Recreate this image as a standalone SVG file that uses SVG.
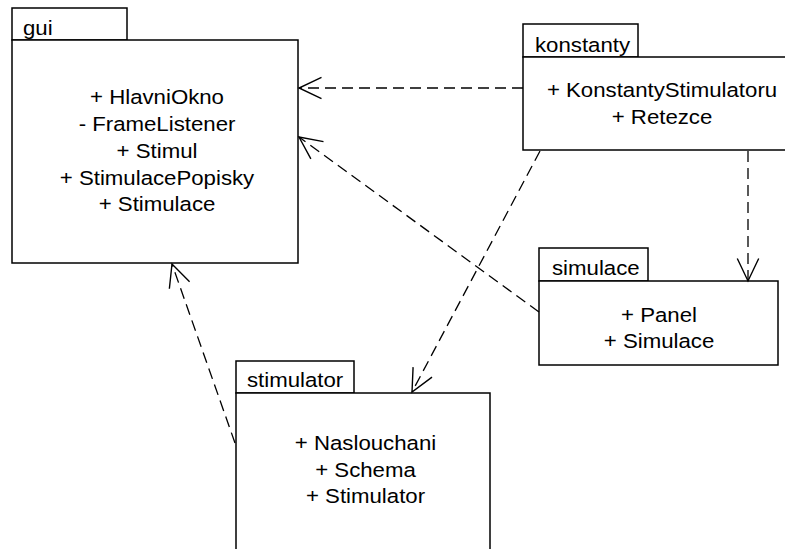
<svg xmlns="http://www.w3.org/2000/svg" width="785" height="549" viewBox="0 0 785 549">
<style>
.box{fill:#fff;stroke:#000;stroke-width:1.5}
.lbl{font-family:"Liberation Sans",Arial,sans-serif;font-size:19.5px;fill:#000}
.c{text-anchor:middle}
.dep{fill:none;stroke:#000;stroke-width:1.3;stroke-dasharray:11,6}
</style>
<defs>
<marker id="open" markerUnits="userSpaceOnUse" markerWidth="30" markerHeight="30" viewBox="-24 -12 28 24" refX="0" refY="0" orient="auto" overflow="visible">
<path d="M-21,-10 L0,0 L-21,10" fill="none" stroke="#000" stroke-width="1.3"/>
</marker>
</defs>
<rect width="785" height="549" fill="#fff"/>
<g id="gui">
<rect class="box" x="12" y="8" width="115" height="32"/>
<rect class="box" x="12" y="40" width="286" height="223"/>
<g transform="translate(23,35) scale(1.14,1)"><text class="lbl" x="0" y="0">gui</text></g>
<g transform="translate(157,0) scale(1.14,1)">
<text class="lbl c" x="0" y="104">+ HlavniOkno</text>
<text class="lbl c" x="0" y="131">- FrameListener</text>
<text class="lbl c" x="0" y="158">+ Stimul</text>
<text class="lbl c" x="0" y="185">+ StimulacePopisky</text>
<text class="lbl c" x="0" y="211.5">+ Stimulace</text>
</g>
</g>
<g id="konstanty">
<rect class="box" x="523" y="24" width="115" height="33"/>
<rect class="box" x="523" y="57" width="280" height="93"/>
<g transform="translate(535,52) scale(1.14,1)"><text class="lbl" x="0" y="0">konstanty</text></g>
<g transform="translate(662,0) scale(1.14,1)">
<text class="lbl c" x="0" y="97">+ KonstantyStimulatoru</text>
<text class="lbl c" x="0" y="124.5">+ Retezce</text>
</g>
</g>
<g id="simulace">
<rect class="box" x="539" y="248" width="109" height="33"/>
<rect class="box" x="539" y="281" width="239" height="84"/>
<g transform="translate(552,275) scale(1.14,1)"><text class="lbl" x="0" y="0">simulace</text></g>
<g transform="translate(659,0) scale(1.14,1)">
<text class="lbl c" x="0" y="322">+ Panel</text>
<text class="lbl c" x="0" y="348.5">+ Simulace</text>
</g>
</g>
<g id="stimulator">
<rect class="box" x="236" y="361" width="118" height="32"/>
<rect class="box" x="236" y="393" width="254" height="170"/>
<g transform="translate(247,387) scale(1.14,1)"><text class="lbl" x="0" y="0">stimulator</text></g>
<g transform="translate(365.5,0) scale(1.14,1)">
<text class="lbl c" x="0" y="450">+ Naslouchani</text>
<text class="lbl c" x="0" y="477">+ Schema</text>
<text class="lbl c" x="0" y="503">+ Stimulator</text>
</g>
</g>
<g id="connectors">
<path class="dep" d="M523,88 L299,88" marker-end="url(#open)"/>
<path class="dep" d="M539,312 L299,137" marker-end="url(#open)"/>
<path class="dep" d="M540,151 L412,392" marker-end="url(#open)"/>
<path class="dep" d="M748,151 L748,281" marker-end="url(#open)"/>
<path class="dep" d="M235,443 L172,264" marker-end="url(#open)"/>
</g>
</svg>
